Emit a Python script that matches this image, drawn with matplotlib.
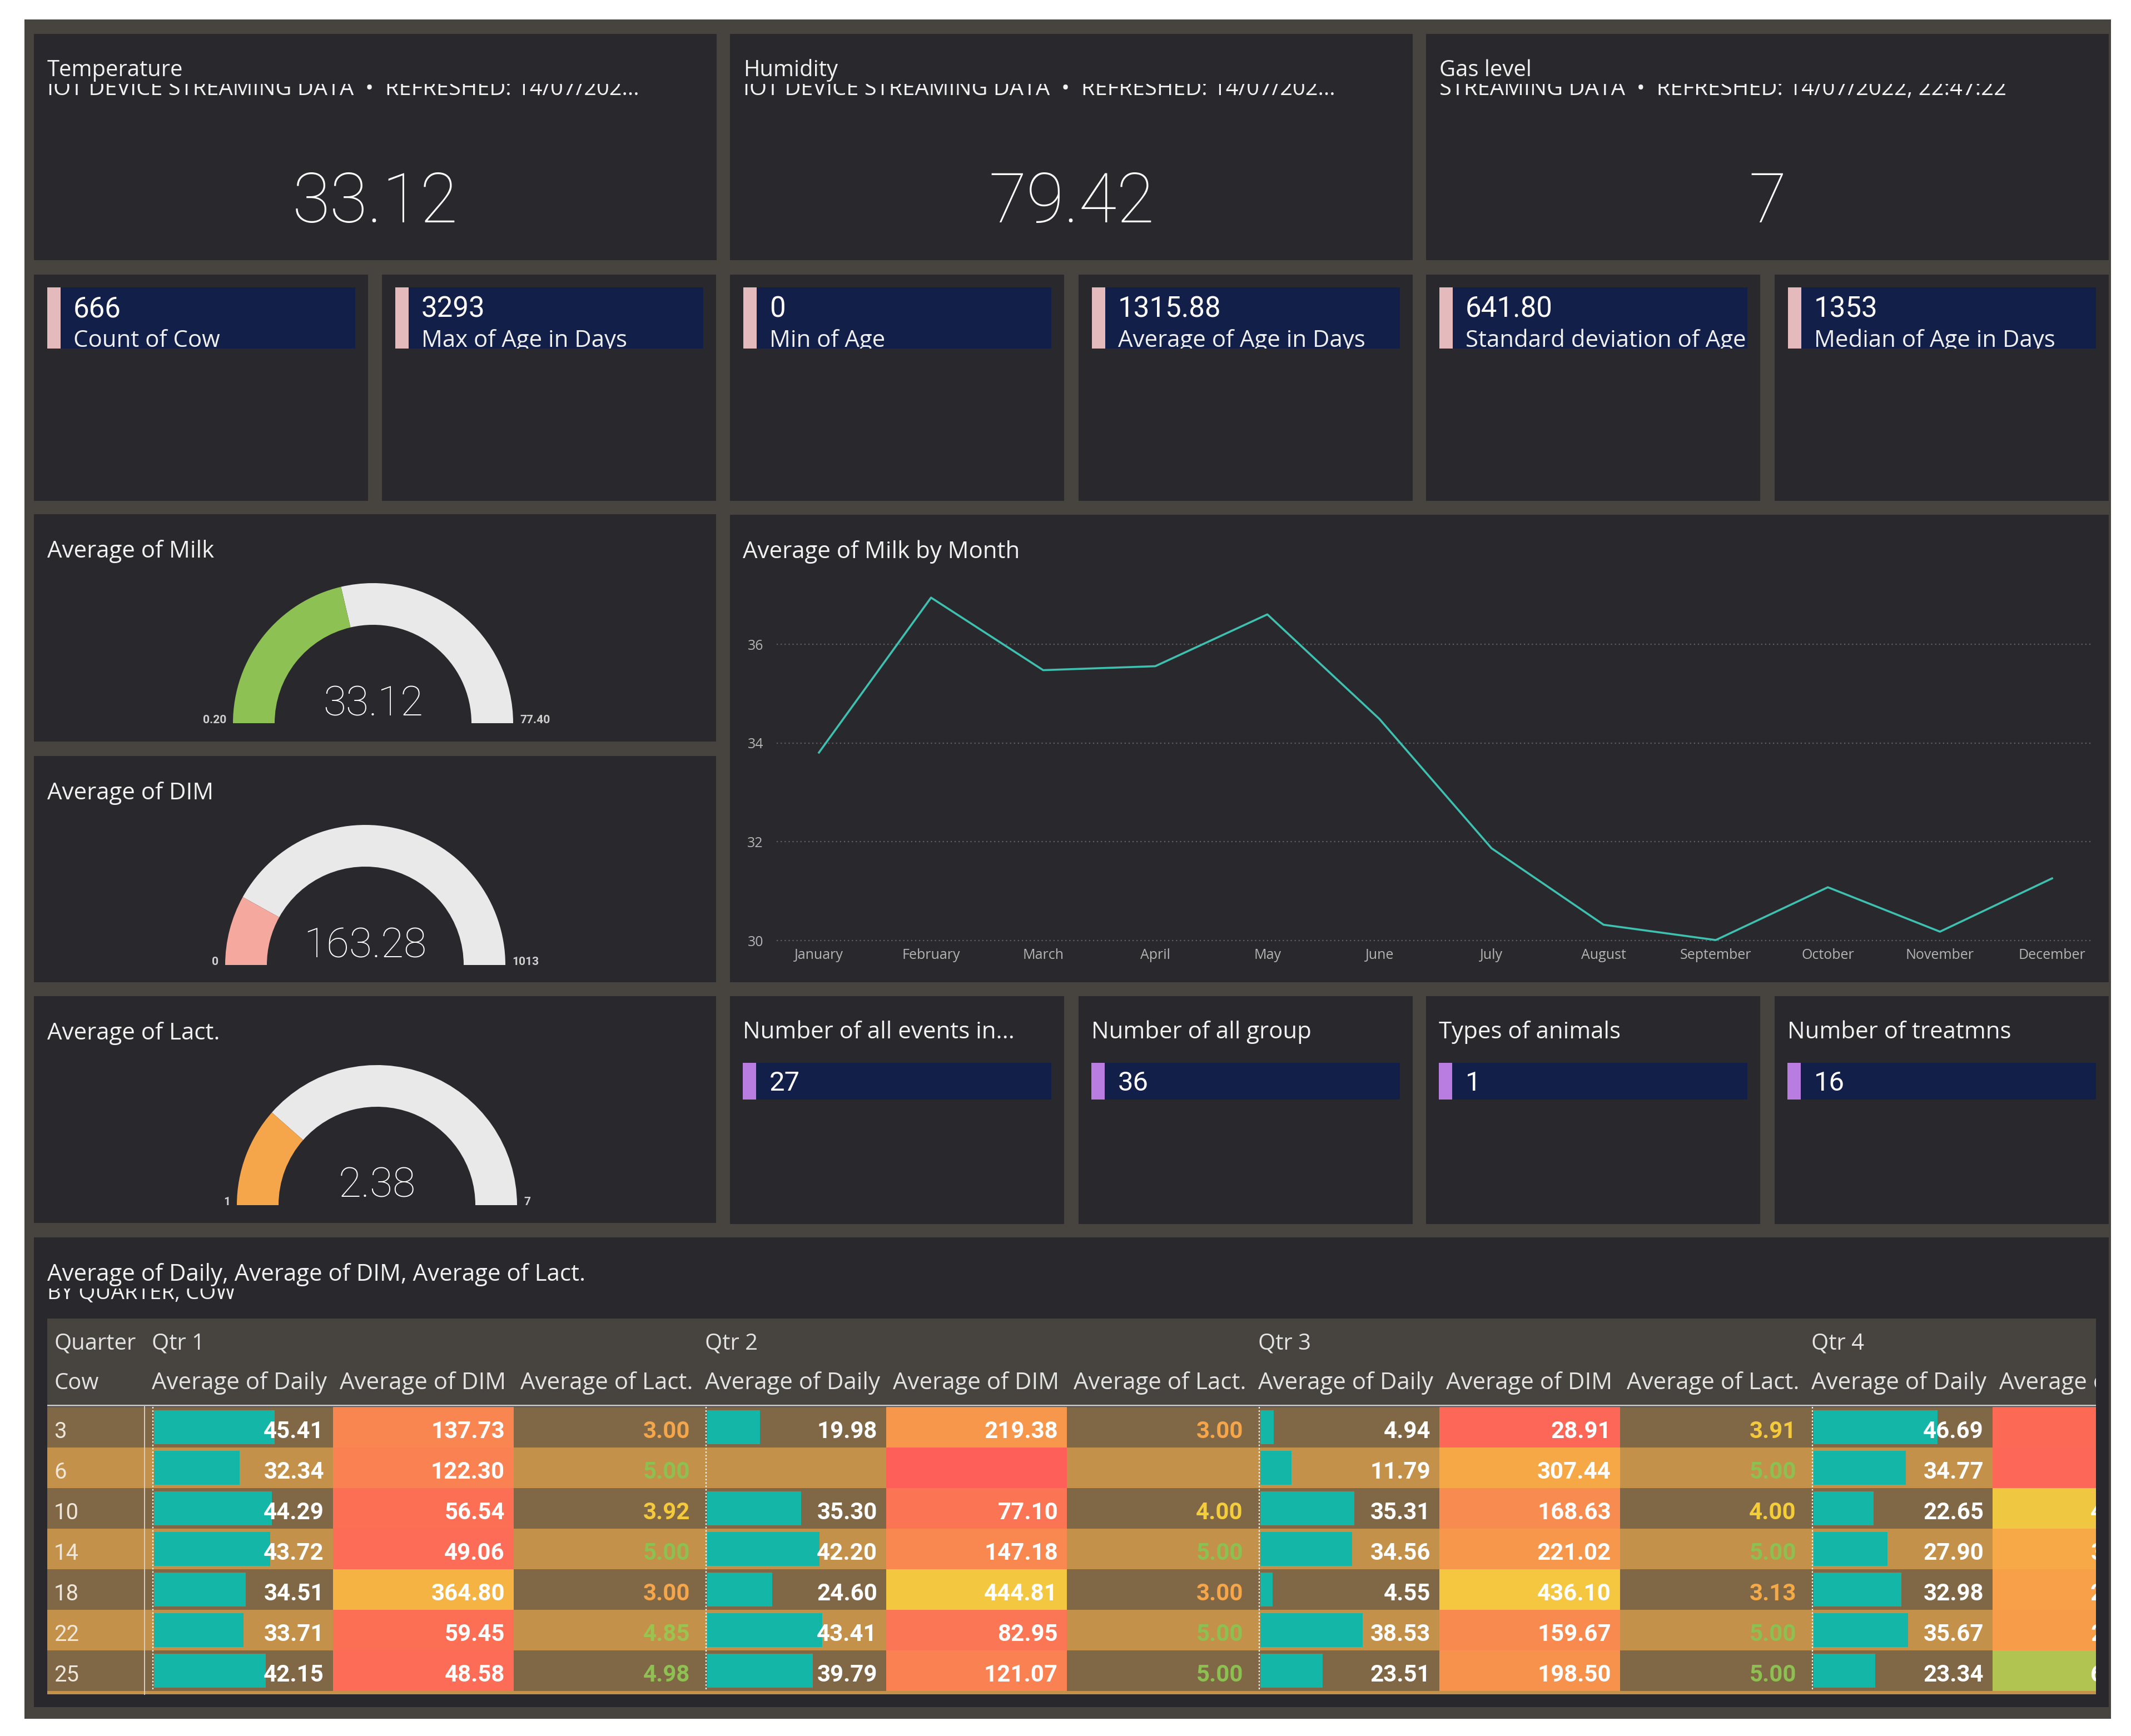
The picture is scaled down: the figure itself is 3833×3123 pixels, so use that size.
import numpy as np
import matplotlib
matplotlib.use("Agg")
import matplotlib.pyplot as plt
from matplotlib.patches import Rectangle, Wedge
from matplotlib.colors import LinearSegmentedColormap, Normalize

# ---------------- data ----------------
kpi_titles = ["Temperature", "Humidity", "Gas level"]
kpi_subtitles = ["IOT DEVICE STREAMING DATA  \u2022  REFRESHED: 14/07/202...",
                 "IOT DEVICE STREAMING DATA  \u2022  REFRESHED: 14/07/202...",
                 "STREAMING DATA  \u2022  REFRESHED: 14/07/2022, 22:47:22"]
kpi_values = ["33.12", "79.42", "7"]

card_values = ["666", "3293", "0", "1315.88", "641.80", "1353"]
card_labels = ["Count of Cow", "Max of Age in Days", "Min of Age",
               "Average of Age in Days", "Standard deviation of Age", "Median of Age in Days"]

gauge_titles = ["Average of Milk", "Average of DIM", "Average of Lact."]
gauge_values = [33.12, 163.28, 2.38]
gauge_mins = [0.20, 0, 1]
gauge_maxs = [77.40, 1013, 7]
gauge_value_labels = ["33.12", "163.28", "2.38"]
gauge_min_labels = ["0.20", "0", "1"]
gauge_max_labels = ["77.40", "1013", "7"]

months = ["January", "February", "March", "April", "May", "June", "July",
          "August", "September", "October", "November", "December"]
milk_by_month = [33.81, 36.95, 35.48, 35.56, 36.61, 34.49, 31.87, 30.32, 30.01, 31.08, 30.18, 31.26]
milk_yticks = [30, 32, 34, 36]

count_titles = ["Number of all events in...", "Number of all group", "Types of animals", "Number of treatmns"]
count_values = ["27", "36", "1", "16"]

table_title = "Average of Daily, Average of DIM, Average of Lact."
table_subtitle = "BY QUARTER, COW"
quarters = ["Qtr 1", "Qtr 2", "Qtr 3", "Qtr 4"]
measures = ["Average of Daily", "Average of DIM", "Average of Lact."]
cows = ["3", "6", "10", "14", "18", "22", "25"]
nan = np.nan
daily_q1 = [45.41, 32.34, 44.29, 43.72, 34.51, 33.71, 42.15]
dim_q1 = [137.73, 122.30, 56.54, 49.06, 364.80, 59.45, 48.58]
lact_q1 = [3.00, 5.00, 3.92, 5.00, 3.00, 4.85, 4.98]
daily_q2 = [19.98, nan, 35.30, 42.20, 24.60, 43.41, 39.79]
dim_q2 = [219.38, nan, 77.10, 147.18, 444.81, 82.95, 121.07]
lact_q2 = [3.00, nan, 4.00, 5.00, 3.00, 5.00, 5.00]
daily_q3 = [4.94, 11.79, 35.31, 34.56, 4.55, 38.53, 23.51]
dim_q3 = [28.91, 307.44, 168.63, 221.02, 436.10, 159.67, 198.50]
lact_q3 = [3.91, 5.00, 4.00, 5.00, 3.13, 5.00, 5.00]
daily_q4 = [46.69, 34.77, 22.65, 27.90, 32.98, 35.67, 23.34]
dim_q4 = [40.0, 30.0, 452.0, 310.0, 262.0, 248.0, 612.0]   # cut off in the source, estimated from colour
lact_q4 = [nan] * 7  # not visible

# ---------------- style ----------------
W, H, DPI = 3833, 3123, 100
PX = 72.0 / DPI
FRAME = "#47433F"
TILE = "#29292D"
NAVY = "#121F48"
WHITE = "#FFFFFF"
SANS = ["Open Sans", "DejaVu Sans"]
NUM = ["Roboto", "DejaVu Sans"]

fig = plt.figure(figsize=(W / DPI, H / DPI), dpi=DPI, facecolor="white")
ax = fig.add_axes([0, 0, 1, 1])
ax.set_xlim(0, W)
ax.set_ylim(H, 0)
ax.axis("off")
renderer = fig.canvas.get_renderer()


def rect(x0, y0, x1, y1, color, z=1, clip=None):
    r = Rectangle((x0, y0), x1 - x0, y1 - y0, facecolor=color, edgecolor="none", zorder=z)
    ax.add_patch(r)
    if clip is not None:
        r.set_clip_path(clip)
    return r


def txt(x, y, s, px, color=WHITE, ha="left", va="baseline", family=SANS, weight="normal", z=5, clip=None):
    t = ax.text(x, y, s, fontsize=px * PX, color=color, ha=ha, va=va, family=family,
                fontweight=weight, zorder=z)
    if clip is not None:
        t.set_clip_path(clip)
        t.set_clip_on(True)
    return t


def fit(x, y, s, width, **kw):
    t = txt(x, y, s, 40, **kw)
    w = t.get_window_extent(renderer).width
    t.set_fontsize(40 * PX * width / w)
    return t


def cliprect(x0, y0, x1, y1):
    return Rectangle((x0, y0), x1 - x0, y1 - y0, transform=ax.transData, facecolor="none")


# frame
rect(44, 35, 3797, 3092, FRAME, z=0)

TITLE_PX = 42
cols6 = [61, 687, 1313, 1940, 2565, 3192]
CW = 601

# ---------------- row 1: KPI tiles ----------------
kpi_x = [61, 1313, 2565]
kpi_sub_w = [1065, 1065, 1019]
for i in range(3):
    x0, x1 = kpi_x[i], kpi_x[i] + 1228
    rect(x0, 61, x1, 468, TILE)
    fit(x0 + 24, 171, kpi_subtitles[i], kpi_sub_w[i], color="#F2F2F2", z=3)
    rect(x0 + 20, 100, x1 - 20, 151, TILE, z=4)
    txt(x0 + 24, 137, kpi_titles[i], 40, color="#F2F2F2", z=6)
    txt((x0 + x1) / 2, 400, kpi_values[i], 124, family=NUM, weight="light", ha="center")

# ---------------- row 2: cards ----------------
for i in range(6):
    x0 = cols6[i]
    rect(x0, 494, x0 + CW, 901, TILE)
    bx0, bx1, by0, by1 = x0 + 24, x0 + CW - 23, 517, 627
    rect(bx0, by0, bx1, by1, NAVY, z=2)
    rect(bx0, by0, bx0 + 24, by1, "#E4BABD", z=3)
    txt(x0 + 71, 570, card_values[i], 51, family=NUM, z=5, clip=cliprect(bx0, by0, bx1, by1))
    txt(x0 + 71, 624, card_labels[i], 42, color="#F0F0F0", z=5, clip=cliprect(bx0, by0, bx1, by1))

# ---------------- gauges ----------------
gauge_tiles = [(925, 1334), (1360, 1767), (1792, 2200)]
gauge_cx = [671, 657, 678]
gauge_colors = ["#8DC153", "#F4A89E", "#F6A64A"]
R_OUT, R_IN = 252, 177
for i in range(3):
    ty0, ty1 = gauge_tiles[i]
    rect(61, ty0, 1288, ty1, TILE)
    txt(85, ty0 + 78, gauge_titles[i], TITLE_PX, color="#F2F2F2")
    cx, cy = gauge_cx[i], ty0 + 376
    frac = (gauge_values[i] - gauge_mins[i]) / (gauge_maxs[i] - gauge_mins[i])
    ang = 180 + 180 * frac
    ax.add_patch(Wedge((cx, cy), R_OUT, ang, 360, width=R_OUT - R_IN, facecolor="#E9E9E9",
                       edgecolor="none", zorder=2))
    ax.add_patch(Wedge((cx, cy), R_OUT, 180, ang, width=R_OUT - R_IN, facecolor=gauge_colors[i],
                       edgecolor="none", zorder=3))
    txt(cx, cy - 14, gauge_value_labels[i], 75, family=NUM, weight="light", ha="center")
    txt(cx - R_OUT - 12, cy, gauge_min_labels[i], 21, color="#CFCFCF", family=NUM, weight="bold", ha="right")
    txt(cx + R_OUT + 12, cy, gauge_max_labels[i], 21, color="#CFCFCF", family=NUM, weight="bold", ha="left")

# ---------------- line chart ----------------
rect(1313, 926, 3793, 1767, TILE)
txt(1336, 1004, "Average of Milk by Month", TITLE_PX, color="#F2F2F2")
L, R_, T_, B_ = 1397, 3764, 1060, 1700
lax = fig.add_axes([L / W, 1 - B_ / H, (R_ - L) / W, (B_ - T_) / H])
lax.set_facecolor("none")
xs = np.arange(len(months))
lax.plot(xs, milk_by_month, color="#3EC1B0", lw=2.6, zorder=3)
lax.set_xlim(-0.377, 11.362)
lax.set_ylim(29.91, 37.12)
lax.set_yticks(milk_yticks)
lax.set_yticklabels([str(v) for v in milk_yticks])
lax.set_xticks(xs)
lax.set_xticklabels(months)
lax.tick_params(axis="both", length=0, labelcolor="#B4B4B4", labelsize=25 * PX)
lax.tick_params(axis="y", pad=24 * PX)
lax.tick_params(axis="x", pad=6 * PX)
for lab in lax.get_xticklabels() + lax.get_yticklabels():
    lab.set_family(SANS)
for s in lax.spines.values():
    s.set_visible(False)
lax.yaxis.grid(True, linestyle=(0, (1, 2.2)), color="#606065", lw=1.6)
lax.set_axisbelow(True)

# ---------------- count cards ----------------
for i in range(4):
    x0 = cols6[2 + i]
    rect(x0, 1792, x0 + CW, 2202, TILE)
    txt(x0 + 23, 1868, count_titles[i], TITLE_PX, color="#F2F2F2")
    rect(x0 + 23, 1912, x0 + CW - 23, 1978, NAVY, z=2)
    rect(x0 + 23, 1912, x0 + 47, 1978, "#B97DE2", z=3)
    txt(x0 + 71, 1962, count_values[i], 49, family=NUM)

# ---------------- table ----------------
rect(61, 2226, 3793, 3071, TILE)
fit(85, 2337, table_subtitle, 339, color="#F2F2F2", z=3)
rect(80, 2262, 1200, 2318, TILE, z=4)
txt(85, 2304, table_title, TITLE_PX, color="#F2F2F2", z=6)

TX0, TX1 = 85, 3770
HY0, HY1 = 2372, 2527
ROW0, ROWH = 2531, 73
nrows = len(cows)
TY1 = ROW0 + nrows * ROWH


def tclip():
    return cliprect(TX0, HY0, TX1, TY1 + 8)


COW_W = 177
WD = {"daily": 337, "dim": 325, "lact": 333}
ROW_COLORS = ["#806745", "#C39149"]

daily_all = [daily_q1, daily_q2, daily_q3, daily_q4]
dim_all = [dim_q1, dim_q2, dim_q3, dim_q4]
lact_all = [lact_q1, lact_q2, lact_q3, lact_q4]
max_daily = np.nanmax(np.array(daily_all))
BAR_MAX = 223

dim_cmap = LinearSegmentedColormap.from_list(
    "dim", [(0.0, "#FE5F58"), (120 / 700, "#F98152"), (220 / 700, "#F7974B"), (310 / 700, "#F6A946"),
            (370 / 700, "#F5B444"), (440 / 700, "#F5C740"), (1.0, "#8FC15A")])
dim_norm = Normalize(0, 700)
lact_cmap = LinearSegmentedColormap.from_list(
    "lact", [(0.0, "#F5A54A"), (0.5, "#F4CD3B"), (1.0, "#8CC152")])
lact_norm = Normalize(3, 5)

# header background
rect(TX0, HY0, TX1, HY1, FRAME, z=2, clip=tclip())
rect(TX0, HY1, TX1, HY1 + 3, "#BDBDBD", z=3, clip=tclip())
HDR = "#E4E4E4"
txt(TX0 + 12, 2427, "Quarter", 40, color=HDR, clip=tclip())
txt(TX0 + 12, 2499, "Cow", 40, color=HDR, clip=tclip())

# row backgrounds
for r in range(nrows):
    y0 = ROW0 + r * ROWH
    rect(TX0, y0, TX1, y0 + ROWH, ROW_COLORS[r % 2], z=2, clip=tclip())
    txt(TX0 + 12, y0 + 56, cows[r], 40, color="#EFE7DA", family=NUM, clip=tclip())
# partial next row peeking at the bottom
rect(TX0, TY1, TX1, TY1 + 6, ROW_COLORS[nrows % 2], z=2, clip=tclip())
ax.plot([TX0 + COW_W - 2, TX0 + COW_W - 2], [ROW0, TY1 + 6], color="#D5CCBE", lw=2 * PX, zorder=4)

x = TX0 + COW_W
for q in range(4):
    # daily
    xd0, xd1 = x, x + WD["daily"]
    txt(xd0 + 11, 2427, quarters[q], 40, color=HDR, clip=tclip())
    txt(xd0 + 11, 2499, measures[0], 42, color=HDR, clip=tclip())
    for r in range(nrows):
        y0 = ROW0 + r * ROWH
        v = daily_all[q][r]
        if not np.isnan(v):
            rect(xd0 + 15, y0 + 6, xd0 + 15 + v / max_daily * BAR_MAX, y0 + ROWH - 6, "#13B6A7", z=3, clip=tclip())
            txt(xd1 - 16, y0 + 56, f"{v:.2f}", 42, family=NUM, weight="bold", ha="right", clip=tclip())
    dl, = ax.plot([xd0 + 13, xd0 + 13], [ROW0, TY1], color="white", lw=2.2 * PX,
                  linestyle=(0, (1.2, 1.6)), zorder=4)
    dl.set_clip_path(tclip())
    x = xd1
    # dim
    xm0, xm1 = x, x + WD["dim"]
    txt(xm0 + 12, 2499, measures[1], 42, color=HDR, clip=tclip())
    for r in range(nrows):
        y0 = ROW0 + r * ROWH
        v = dim_all[q][r]
        col = dim_cmap(dim_norm(0 if np.isnan(v) else v))
        rect(xm0, y0, xm1, y0 + ROWH, col, z=3, clip=tclip())
        if not np.isnan(v):
            txt(xm1 - 16, y0 + 56, f"{v:.2f}", 42, family=NUM, weight="bold", ha="right", clip=tclip())
    x = xm1
    # lact
    xl0, xl1 = x, x + WD["lact"]
    txt(xl0 + 12, 2499, measures[2], 42, color=HDR, clip=tclip())
    for r in range(nrows):
        y0 = ROW0 + r * ROWH
        v = lact_all[q][r]
        if not np.isnan(v):
            txt(xl1 - 16, y0 + 56, f"{v:.2f}", 42, family=NUM, weight="bold", ha="right",
                color=lact_cmap(lact_norm(v)), clip=tclip())
    x = xl1

fig.savefig("out.png", dpi=DPI, facecolor="white")
